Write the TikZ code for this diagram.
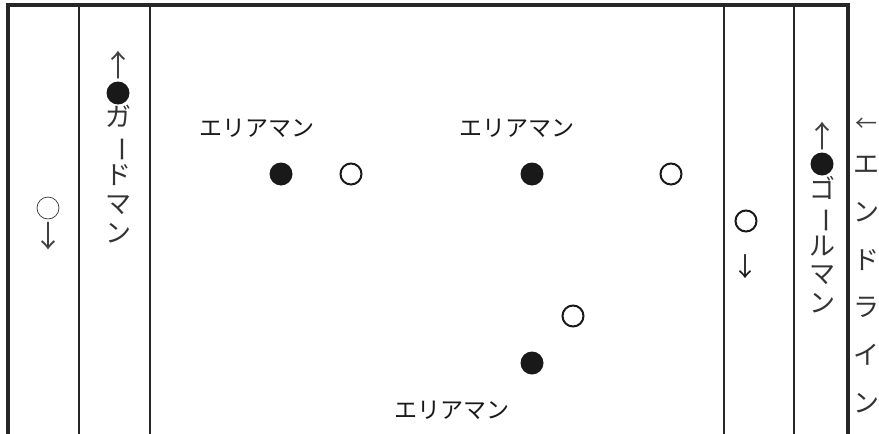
\documentclass[tikz,border=0pt]{standalone}
\usepackage{fontspec}
\newfontfamily\jp{Noto Sans CJK JP}
\usetikzlibrary{positioning}
\newcommand{\tatebou}{\rotatebox[origin=c]{-90}{ー}}

\begin{document}
\begin{tikzpicture}[
    x=1pt, y=-1pt,
    frame/.style={line width=3.2pt, color=black!85},
    lane/.style={line width=2pt, color=black!85},
    attacker/.style={circle, fill=black!90, inner sep=0pt, minimum size=23pt},
    defender/.style={circle, draw=black!90, line width=2pt, inner sep=0pt, minimum size=21pt},
    thindef/.style={circle, draw=black!80, line width=0.7pt, inner sep=0pt, minimum size=22pt},
    arrowglyph/.style={inner sep=0pt, font=\jp\fontsize{30}{30}\selectfont, color=black!75},
    vtext/.style={inner sep=0pt, align=center, font=\jp\fontsize{26}{#1}\selectfont, color=black!80},
    vtext/.default=29,
    role/.style={inner sep=0pt, font=\jp\fontsize{23}{23}\selectfont, color=black!90}
]
\useasboundingbox (0,0) rectangle (879,434);

% frame, open at the bottom
\draw[frame] (8,434) -- (8,5) -- (848,5) -- (848,434);

% lanes
\foreach \x in {79,150,724,794}
    \draw[lane] (\x,5) -- (\x,434);

% left lane
\node[thindef] (lo) at (48,208) {};
\node[arrowglyph] (lodown) at (48,236) {↓};

% guard man
\node[attacker] (gd) at (118,93) {};
\node[arrowglyph] (gdup) at (118,65) {↑};
\node[vtext, below=0pt of gd] (gdlbl) {ガ\\\tatebou\\ド\\マ\\ン};

% area men
\node[attacker] (a1) at (281,174) {};
\node[defender] (d1) at (351,174) {};
\node[role] (a1lbl) at (257,128) {エリアマン};

\node[attacker] (a2) at (532,174) {};
\node[defender] (d2) at (671,174) {};
\node[role] (a2lbl) at (517,128) {エリアマン};

\node[defender] (d3) at (573,316) {};
\node[attacker] (a3) at (532,363) {};
\node[role] (a3lbl) at (452,410) {エリアマン};

% right lane
\node[defender] (ro) at (746,221) {};
\node[arrowglyph, font=\jp\fontsize{26}{26}\selectfont, color=black!90] (rodown) at (745,267) {↓};

% goal man
\node[attacker] (gk) at (822,164) {};
\node[arrowglyph] (gkup) at (822,136) {↑};
\node[vtext=28.5, below=0pt of gk] (gklbl) {ゴ\\\tatebou\\ル\\マ\\ン};

% end line
\node[arrowglyph, font=\jp\fontsize{22}{22}\selectfont] (endarr) at (866,125) {←};
\node[vtext=47.8, anchor=north] (endlbl) at (866,156) {エ\\ン\\ド\\ラ\\イ\\ン};

\end{tikzpicture}
\end{document}
